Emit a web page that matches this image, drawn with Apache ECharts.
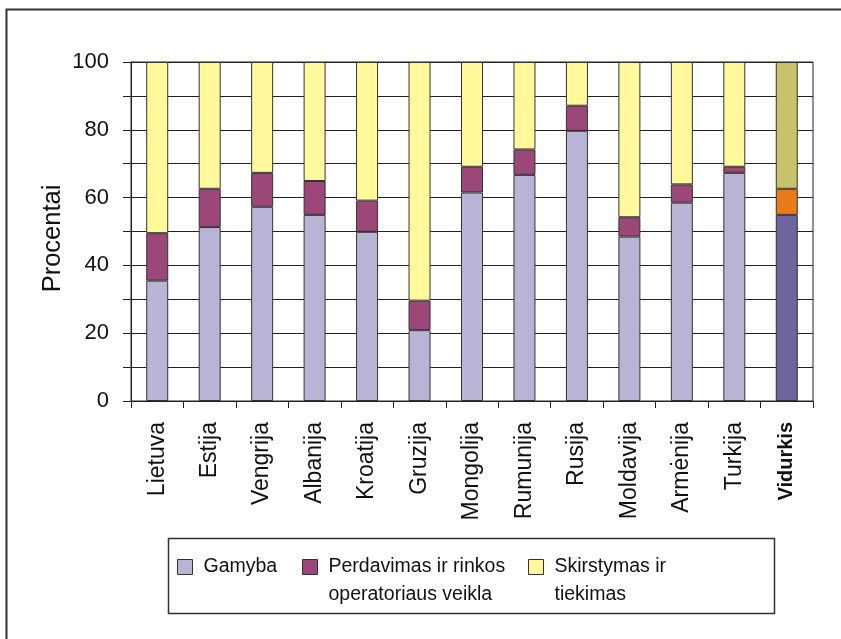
<!DOCTYPE html>
<html>
<head>
<meta charset="utf-8">
<script src="https://cdn.jsdelivr.net/npm/echarts@6/dist/echarts.min.js"></script>
<style>
  html, body { margin: 0; padding: 0; background: #fff; }
  #chart { width: 841px; height: 639px; }
</style>
</head>
<body>
<div id="chart"></div>
<script>
// Šalys (paskutinis stulpelis – vidurkis)
const categories = ['Lietuva', 'Estija', 'Vengrija', 'Albanija', 'Kroatija', 'Gruzija',
  'Mongolija', 'Rumunija', 'Rusija', 'Moldavija', 'Armėnija', 'Turkija', 'Vidurkis'];

// Sąnaudų dalys, procentais
const gamyba      = [35.5, 51.3, 57.3, 54.9, 49.9, 20.9, 61.5, 66.7, 79.7, 48.5, 58.5, 67.3, 54.9];
const perdavimas  = [14.0, 11.3, 10.0, 10.0,  9.2,  8.7,  7.6,  7.5,  7.4,  5.7,  5.4,  1.8,  7.7];
const skirstymas  = [50.5, 37.4, 32.7, 35.1, 40.9, 70.4, 30.9, 25.8, 12.9, 45.8, 36.1, 30.9, 37.4];

const yTicks = [0, 20, 40, 60, 80, 100];

const seriesNames = ['Gamyba', 'Perdavimas ir rinkos\noperatoriaus veikla', 'Skirstymas ir\ntiekimas'];
const colors = ['#B9B3D6', '#9B4878', '#FFF99C'];
const avgColors = ['#6E64A0', '#E87A19', '#C7C36B'];

const FONT = 'Arial, "Liberation Sans", sans-serif';
const avgIndex = categories.length - 1;

function withAverage(values, k) {
  return values.map((v, i) => i === avgIndex
    ? { value: v, itemStyle: { color: avgColors[k] } }
    : v);
}

// Legend text: first line sits level with the swatch, so pad the block
// with blank lines to keep it balanced around the swatch centre.
function legendLabel(name) {
  return ' \n' + name + (name.indexOf('\n') >= 0 ? '' : '\n ');
}

const chart = echarts.init(document.getElementById('chart'), null, { renderer: 'canvas' });

const legendX = [177, 302, 528];
const legends = seriesNames.map((name, k) => ({
  show: true,
  left: legendX[k],
  top: 525,
  orient: 'horizontal',
  padding: 0,
  itemWidth: 15,
  itemHeight: 15,
  itemStyle: { borderColor: '#333', borderWidth: 1 },
  icon: 'rect',
  data: [{ name: name, icon: 'rect' }],
  formatter: legendLabel,
  textStyle: {
    fontFamily: FONT, fontSize: 19.5, color: '#111', lineHeight: 28,
    padding: [0, 0, 0, 6]
  },
  selectedMode: false
}));

const option = {
  backgroundColor: '#fff',
  animation: false,
  textStyle: { fontFamily: FONT },
  grid: {
    left: 131, right: 28, top: 62, bottom: 238,
    show: true, borderColor: '#222', borderWidth: 1, backgroundColor: 'transparent'
  },
  legend: legends,
  graphic: [
    {
      type: 'rect', silent: true,
      shape: { x: 6.5, y: 9.5, width: 900, height: 700 },
      style: { fill: 'none', stroke: '#333', lineWidth: 2 }
    },
    {
      type: 'rect', silent: true,
      shape: { x: 168.5, y: 538.5, width: 606, height: 75 },
      style: { fill: 'none', stroke: '#333', lineWidth: 1.5 },
      z: -1
    }
  ],
  xAxis: {
    type: 'category',
    data: categories,
    boundaryGap: true,
    axisLine: { show: true, lineStyle: { color: '#222', width: 1 } },
    axisTick: { show: true, inside: false, length: 7, lineStyle: { color: '#222' } },
    splitLine: { show: false },
    axisLabel: {
      rotate: 90, margin: 21, interval: 0,
      fontFamily: FONT, fontSize: 23, color: '#111',
      formatter: v => v === 'Vidurkis' ? '{b|' + v + '}' : v,
      rich: { b: { fontWeight: 'bold', fontFamily: FONT, fontSize: 20, color: '#111' } }
    }
  },
  yAxis: {
    type: 'value',
    min: 0, max: 100, interval: 10,
    name: 'Procentai',
    nameLocation: 'middle',
    nameGap: 65,
    nameMoveOverlap: false,
    nameTextStyle: { fontFamily: FONT, fontSize: 25.5, color: '#111', padding: [0, 14, 0, 0] },
    axisLine: { show: true, lineStyle: { color: '#222', width: 1 } },
    axisTick: { show: true, inside: false, length: 8, lineStyle: { color: '#222' } },
    splitLine: { show: true, lineStyle: { color: '#222', width: 1 } },
    axisLabel: {
      margin: 22, fontFamily: FONT, fontSize: 22, color: '#111',
      formatter: v => yTicks.indexOf(v) >= 0 ? String(v) : ''
    }
  },
  series: [gamyba, perdavimas, skirstymas].map((vals, k) => ({
    name: seriesNames[k],
    type: 'bar',
    stack: 'total',
    barWidth: 22,
    data: withAverage(vals, k),
    itemStyle: { color: colors[k], borderColor: '#333', borderWidth: 1 },
    emphasis: { disabled: true }
  }))
};

chart.setOption(option);
</script>
</body>
</html>
